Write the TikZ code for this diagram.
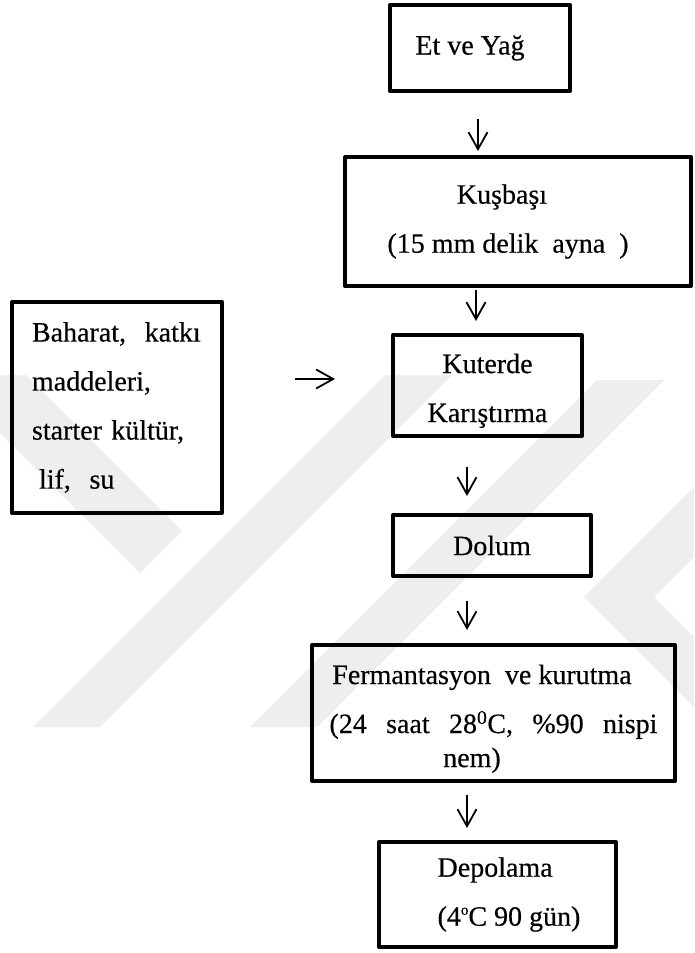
\documentclass[tikz,border=0pt]{standalone}
\usepackage{fontspec}
\setmainfont{Liberation Serif}
\newfontfamily\chartfont{Liberation Serif}[UprightFeatures={FakeBold=0.4}]
\usetikzlibrary{arrows.meta}
\definecolor{wmgray}{RGB}{238,238,238}
\tikzset{box/.style = {draw, line width=4pt, line join=round, inner sep=0pt,
                       align=center, font=\fontsize{28pt}{49pt}\chartfont}}
\tikzset{flow/.style = {line width=1.8pt, -{Straight Barb[length=17pt,width=19pt]}}}
\newcommand{\degsmall}{\raisebox{11pt}{\fontsize{15pt}{15pt}\selectfont o}}

\begin{document}
\begin{tikzpicture}[x=1pt, y=-1pt]
    \useasboundingbox [fill=white] (0, 0) rectangle (694, 953);

    % faint watermark behind the chart
    \begin{scope}
      \clip (0, 375) rectangle (694, 727);
      \fill [wmgray] (0, 349) -- (182, 531) -- (140, 573) -- (0, 433) -- cycle;
      \fill [wmgray] (33, 727) -- (100, 727) -- (452, 375) -- (385, 375) -- cycle;
      \fill [wmgray] (250, 727) -- (317, 727) -- (664, 380) -- (597, 380) -- cycle;
      \fill [wmgray] (694, 487) -- (584, 597) -- (694, 707) -- (694, 637)
                     -- (654, 597) -- (694, 557) -- cycle;
    \end{scope}

    \node [box, minimum width=180, minimum height=86] (etyag) at (480, 48)
      {Et ve Ya\u{g}\hspace*{20pt}};
    \node [box, minimum width=346, minimum height=129] (kusbasi) at (518, 221.5)
      {Ku\c{s}ba\c{s}\i\hspace*{32pt}\\ (15 mm delik\ \ ayna\ \ )\hspace*{20pt}};
    \node [box, minimum width=189, minimum height=101] (kuterde) at (487.5, 385.5)
      {\rule{0pt}{30pt}Kuterde\\ Kar\i\c{s}t\i rma};
    \node [box, minimum width=210, minimum height=211, text width=170, inner xsep=20,
           align=left] (katki) at (117, 407.5)
      {Baharat,\ \ katk\i\\ maddeleri,\\ starter k\"ult\"ur,\\ \hspace*{7pt}lif,\ \ su};
    \node [box, minimum width=198, minimum height=61] (dolum) at (492, 545.5) {Dolum};
    \node [box, minimum width=363, minimum height=136] (ferm) at (493.5, 713)
      {\rule{0pt}{31pt}Fermantasyon\ \ ve kurutma\hspace*{23pt}\\
       \makebox[328pt][s]{(24 saat 28\textsuperscript{0}C, \%90 nispi}\\[-15pt]
       nem)\hspace*{43pt}};
    \node [box, minimum width=237, minimum height=105, align=left] (depo) at (497.5, 894.5)
      {\hspace*{23pt}Depolama\\ \hspace*{23pt}(4\degsmall C 90 g\"un)};

    \draw [flow, shorten <=26pt, shorten >=4pt]
      ([xshift=-2pt]etyag.south) -- ([xshift=-2pt]etyag.south |- kusbasi.north);
    \draw [flow, shorten <=2pt, shorten >=12pt]
      ([xshift=-42pt]kusbasi.south) -- ([xshift=-42pt]kusbasi.south |- kuterde.north);
    \draw [flow, shorten <=71pt, shorten >=56pt]
      ([yshift=28.5pt]katki.east) -- ([yshift=28.5pt]katki.east -| kuterde.west);
    \draw [flow, shorten <=29pt, shorten >=17pt]
      ([xshift=-20.5pt]kuterde.south) -- ([xshift=-20.5pt]kuterde.south |- dolum.north);
    \draw [flow, shorten <=23pt, shorten >=13pt]
      ([xshift=-25pt]dolum.south) -- ([xshift=-25pt]dolum.south |- ferm.north);
    \draw [flow, shorten <=12pt, shorten >=12pt]
      ([xshift=-26.5pt]ferm.south) -- ([xshift=-26.5pt]ferm.south |- depo.north);
\end{tikzpicture}
\end{document}
